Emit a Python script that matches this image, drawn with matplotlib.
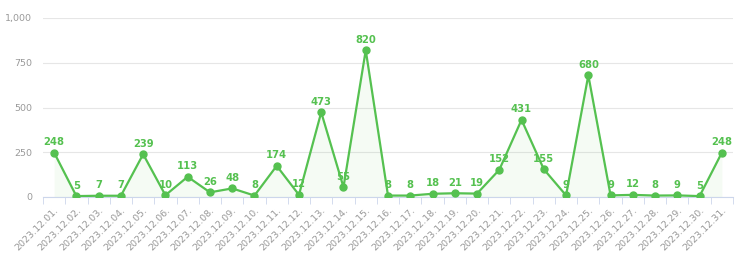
import matplotlib
matplotlib.use('Agg')
from matplotlib import pyplot as plt
from matplotlib.ticker import FuncFormatter
import numpy as np

dates = ['2023.12.%02d.' % d for d in range(1, 32)]
counts = [248, 5, 7, 7, 239, 10, 113, 26, 48, 8, 174, 12, 473, 55, 820,
          8, 8, 18, 21, 19, 152, 431, 155, 9, 680, 9, 12, 8, 9, 5, 248]

green = '#55c150'
grey = '#999999'

fig = plt.figure(figsize=(7.43, 2.56), dpi=100)
ax = fig.add_axes([43/743, 59/256, 690/743, 179/256])

x = np.arange(len(dates))
ax.fill_between(x, counts, 0, color=green, alpha=0.06, linewidth=0)
ax.plot(x, counts, color=green, linewidth=1.6, marker='o', markersize=5, zorder=3)

for xi, v in zip(x, counts):
    ax.annotate(str(v), (xi, v), xytext=(0, 4), textcoords='offset points',
                ha='center', va='bottom', fontsize=7.2, fontweight='bold',
                color=green, zorder=4)

ax.set_xlim(-0.5, len(dates) - 0.5)
ax.set_ylim(0, 1000)
ax.set_yticks([0, 250, 500, 750, 1000])
ax.yaxis.set_major_formatter(FuncFormatter(lambda v, p: '{:,}'.format(int(v))))
ax.grid(axis='y', color='#e6e6e6', linewidth=0.8)
ax.set_axisbelow(True)

ax.set_xticks(x)
ax.set_xticklabels(dates, rotation=45, ha='right', rotation_mode='anchor')
ax.set_xticks(np.arange(-0.5, len(dates)), minor=True)
ax.tick_params(axis='x', which='major', length=0, labelsize=6.8, colors=grey, pad=6)
ax.tick_params(axis='x', which='minor', length=5, color='#ccd6eb')
ax.tick_params(axis='y', length=0, labelsize=6.8, colors=grey, pad=8)

for s in ['top', 'right', 'left']:
    ax.spines[s].set_visible(False)
ax.spines['bottom'].set_color('#ccd6eb')

fig.savefig('out.png', dpi=100)
